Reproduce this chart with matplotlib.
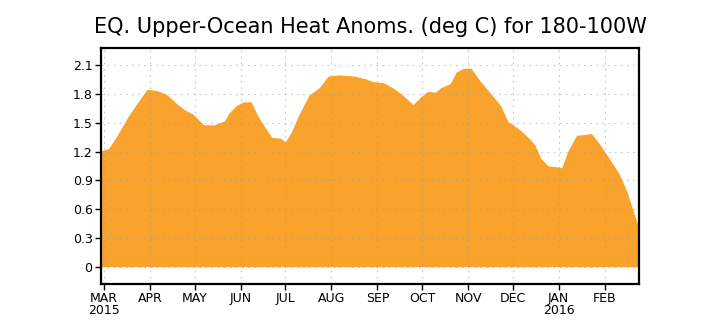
import datetime as dt
import matplotlib
matplotlib.use("Agg")
import matplotlib.pyplot as plt
import matplotlib.dates as mdates

# data (date, anomaly in deg C)
dates = ["2015-02-27", "2015-03-04", "2015-03-10", "2015-03-17", "2015-03-24",
         "2015-03-30", "2015-04-05", "2015-04-12", "2015-04-19", "2015-04-24",
         "2015-04-30", "2015-05-07", "2015-05-14", "2015-05-21", "2015-05-24",
         "2015-05-29", "2015-06-03", "2015-06-08", "2015-06-13", "2015-06-18",
         "2015-06-22", "2015-06-28", "2015-07-01", "2015-07-05", "2015-07-10",
         "2015-07-17", "2015-07-24", "2015-07-30", "2015-08-06", "2015-08-16",
         "2015-08-24", "2015-08-29", "2015-09-05", "2015-09-12", "2015-09-18",
         "2015-09-25", "2015-09-30", "2015-10-05", "2015-10-10", "2015-10-14",
         "2015-10-20", "2015-10-24", "2015-10-29", "2015-11-03", "2015-11-09",
         "2015-11-16", "2015-11-23", "2015-11-28", "2015-12-05", "2015-12-12",
         "2015-12-16", "2015-12-20", "2015-12-25", "2016-01-01", "2016-01-03",
         "2016-01-07", "2016-01-13", "2016-01-19", "2016-01-23", "2016-01-28",
         "2016-02-04", "2016-02-11", "2016-02-16", "2016-02-21", "2016-02-24"]
anom = [1.21, 1.23, 1.37, 1.56, 1.72,
        1.85, 1.84, 1.80, 1.70, 1.64,
        1.59, 1.48, 1.48, 1.52, 1.60,
        1.68, 1.72, 1.72, 1.56, 1.44,
        1.35, 1.34, 1.30, 1.40, 1.58,
        1.79, 1.87, 1.99, 2.00, 1.99,
        1.96, 1.93, 1.92, 1.86, 1.79,
        1.69, 1.77, 1.83, 1.82, 1.87,
        1.91, 2.03, 2.07, 2.07, 1.94,
        1.81, 1.68, 1.51, 1.44, 1.34,
        1.27, 1.13, 1.05, 1.04, 1.03,
        1.20, 1.37, 1.38, 1.39, 1.29,
        1.13, 0.96, 0.78, 0.54, 0.40]

yticks = [0, 0.3, 0.6, 0.9, 1.2, 1.5, 1.8, 2.1]
ytick_labels = ["0", "0.3", "0.6", "0.9", "1.2", "1.5", "1.8", "2.1"]
months = ["2015-03-01", "2015-04-01", "2015-05-01", "2015-06-01", "2015-07-01",
          "2015-08-01", "2015-09-01", "2015-10-01", "2015-11-01", "2015-12-01",
          "2016-01-01", "2016-02-01"]
month_labels = ["MAR\n2015", "APR", "MAY", "JUN", "JUL", "AUG", "SEP", "OCT",
                "NOV", "DEC", "JAN\n2016", "FEB"]

x = [dt.datetime.strptime(d, "%Y-%m-%d") for d in dates]
mx = [dt.datetime.strptime(d, "%Y-%m-%d") for d in months]

fig = plt.figure(figsize=(7.06, 3.32), dpi=100)
ax = fig.add_axes([0.143, 0.145, 0.762, 0.71])

ax.fill_between(x, 0, anom, color="#f9a22c", linewidth=0, zorder=2)

ax.set_xlim(dt.datetime(2015, 2, 27), dt.datetime(2016, 2, 24))
ax.set_ylim(-0.18, 2.28)

ax.set_yticks(yticks)
ax.set_yticklabels(ytick_labels)
ax.set_xticks(mx)
ax.set_xticklabels(month_labels, linespacing=0.9)

ax.grid(True, color="#a0a0a0", linestyle=(0, (1.5, 4)), linewidth=0.8, alpha=0.6, zorder=3)
ax.set_axisbelow(False)

for s in ax.spines.values():
    s.set_linewidth(1.6)
    s.set_zorder(4)

ax.tick_params(axis="both", direction="out", length=4, width=1, labelsize=9, pad=2)

fig.text(0.524, 0.918, "EQ. Upper-Ocean Heat Anoms. (deg C) for 180-100W",
         ha="center", va="center", fontsize=15)

fig.savefig("out.png", dpi=100)
